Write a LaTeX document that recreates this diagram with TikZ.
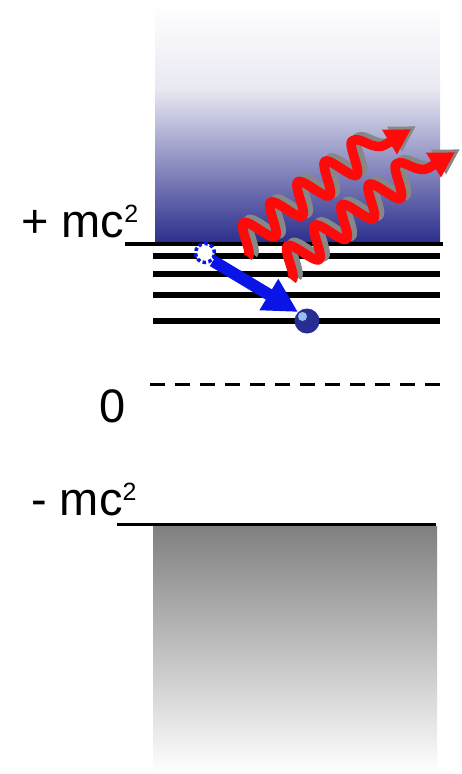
\documentclass[tikz,border=0pt]{standalone}
\usepackage{fontspec}
\setmainfont{Liberation Sans}
\usetikzlibrary{arrows.meta}
\definecolor{bandblue}{RGB}{43,46,140}
\definecolor{paleblue}{RGB}{232,232,242}
\definecolor{arrowblue}{RGB}{10,20,230}
\definecolor{elecblue}{RGB}{40,45,145}
\definecolor{hiblue}{RGB}{150,190,240}
\definecolor{photred}{RGB}{255,10,10}
\definecolor{shadowgray}{RGB}{135,135,135}
\tikzset{
  lbl/.style={font=\fontsize{47}{47}\selectfont, inner sep=0pt},
  levelthick/.style={line width=6.5pt, black},
  levelthin/.style={line width=3.5pt, black},
  photon/.style={line width=9.5pt, line join=round, photred, -{Triangle[length=25pt,width=27pt]}},
  photshadow/.style={line width=9.5pt, line join=round, shadowgray, -{Triangle[length=25pt,width=27pt]}},
  wavepath/.pic={
    \draw[#1] plot[domain=0:153, samples=160, smooth] (\x,{15*cos(\x*10.588)})
      .. controls (163,-15) and (163,7) .. (178,8) -- (207,11);
  },
}
\newcommand{\sqsup}{\raisebox{15pt}{\fontsize{25}{25}\selectfont 2}}
\begin{document}
\begin{tikzpicture}[x=1pt,y=-1pt]
\useasboundingbox (0,0) rectangle (462,774);
% positive continuum
\shade[top color=white, bottom color=paleblue] (155,5) rectangle (440,90);
\shade[top color=paleblue, bottom color=bandblue] (155,89.5) rectangle (440,243);
% negative continuum
\shade[top color=black!50, bottom color=white] (153,526) rectangle (437,772);
% levels
\draw[levelthin] (125,244) -- (443,244);
\foreach \y in {256,274,295,321} \draw[levelthick] (153,\y) -- (440,\y);
\draw[line width=3pt, dash pattern=on 15pt off 10pt] (150,384) -- (447,384);
\draw[line width=3pt] (117,524) -- (436,524);
% labels
\node[lbl, anchor=base west] (plus) at (21,237) {+ mc\sqsup};
\node[lbl] (zero) at (113,406) {0};
\node[lbl, anchor=base west] (minus) at (31,515) {- mc\sqsup};
% electrons
\node[circle, draw=arrowblue, line width=3.5pt, dash pattern=on 3.5pt off 2.5pt, fill=white, minimum size=19pt, inner sep=0pt] (hole) at (205,253) {};
\node[circle, fill=elecblue, minimum size=25pt, inner sep=0pt] (elec) at (307,321) {};
\fill[hiblue] (302.5,316.5) circle (4.5pt);
\draw[arrowblue, line width=12pt, -{Triangle[length=34pt,width=34pt]}] (hole.south east) -- (elec.north west);
% photons
\foreach \sx/\sy/\col in {5/-3/photshadow, 0/0/photon}{
  \pic[shift={(239+\sx,245+\sy)}, rotate=37] {wavepath=\col};
  \pic[shift={(283+\sx,268+\sy)}, rotate=37] {wavepath=\col};
}
\end{tikzpicture}
\end{document}
